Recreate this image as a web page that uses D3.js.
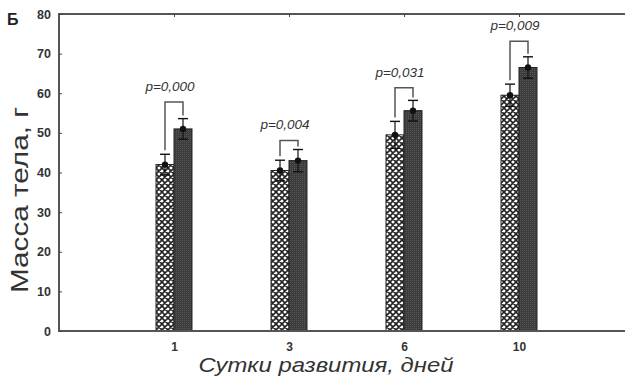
<!DOCTYPE html>
<html><head><meta charset="utf-8">
<script src="https://cdn.jsdelivr.net/npm/d3@7"></script>
<style>body{margin:0;background:#fff}svg{display:block}</style>
</head><body>
<script>
const categories = ["1","3","6","10"];
const controlMean = [42, 40.5, 49.5, 59.5];
const controlErr = [2.6, 2.6, 3.4, 2.8];
const treatedMean = [51, 43, 55.6, 66.5];
const treatedErr = [2.6, 2.8, 2.6, 2.7];
const bracketTop = [57.8, 48.1, 61.4, 73.1];
const pLabels = ["p=0,000","p=0,004","p=0,031","p=0,009"];
const yTicks = [0,10,20,30,40,50,60,70,80];

const W = 625, H = 378;
const svg = d3.select("body").append("svg").attr("width", W).attr("height", H);
const defs = svg.append("defs");
const hp = defs.append("pattern").attr("id","hatch").attr("patternUnits","userSpaceOnUse")
  .attr("width",6).attr("height",6);
hp.append("rect").attr("width",6).attr("height",6).attr("fill","#fff");
hp.append("path").attr("d","M0,0L6,6M6,0L0,6M-1,5L1,7M5,-1L7,1M-1,1L1,-1M5,7L7,5")
  .attr("stroke","#222").attr("stroke-width",1.6);
const dp = defs.append("pattern").attr("id","dark").attr("patternUnits","userSpaceOnUse")
  .attr("width",2).attr("height",2);
dp.append("rect").attr("width",2).attr("height",2).attr("fill","#3c3c3c");
dp.append("rect").attr("width",1).attr("height",1).attr("fill","#555");

const mLeft = 59, mRight = 625, mTop = 14, mBottom = 331;
const y = d3.scaleLinear().domain([0,80]).range([mBottom, mTop]);
const x = d3.scalePoint().domain(categories).range([174, 519]);
const sub = d3.scaleBand().domain(["c","t"]).range([-18, 18]);

const rows = categories.map((c,i)=>({c, i}));
const g = svg.append("g");
const FONT = "Liberation Sans, Arial, sans-serif";

const series = [
  {key:"c", mean:controlMean, err:controlErr, fill:"url(#hatch)"},
  {key:"t", mean:treatedMean, err:treatedErr, fill:"url(#dark)"}
];
series.forEach(s=>{
  g.selectAll(null).data(rows).enter().append("rect")
    .attr("x", d=>x(d.c)+sub(s.key))
    .attr("width", sub.bandwidth())
    .attr("y", d=>y(s.mean[d.i]))
    .attr("height", d=>y(0)-y(s.mean[d.i]))
    .attr("fill", s.fill).attr("stroke","#222").attr("stroke-width",1);
});
series.forEach(s=>{
  const cx = d=>x(d.c)+sub(s.key)+sub.bandwidth()/2;
  const eg = g.selectAll(null).data(rows).enter().append("g");
  eg.append("line").attr("x1",cx).attr("x2",cx)
    .attr("y1",d=>y(s.mean[d.i]-s.err[d.i])).attr("y2",d=>y(s.mean[d.i]+s.err[d.i]))
    .attr("stroke","#111").attr("stroke-width",1.2);
  [-1,1].forEach(sg=>{
    eg.append("line").attr("x1",d=>cx(d)-5).attr("x2",d=>cx(d)+5)
      .attr("y1",d=>y(s.mean[d.i]+sg*s.err[d.i])).attr("y2",d=>y(s.mean[d.i]+sg*s.err[d.i]))
      .attr("stroke","#111").attr("stroke-width",1.4);
  });
  eg.append("circle").attr("cx",cx).attr("cy",d=>y(s.mean[d.i])).attr("r",3.2)
    .attr("fill","#111");
});
const bg = g.selectAll(null).data(rows).enter().append("g");
bg.append("path").attr("fill","none").attr("stroke","#555").attr("stroke-width",1.5)
  .attr("d", d=>{
    const x1 = x(d.c)+sub("c")+sub.bandwidth()/2, x2 = x(d.c)+sub("t")+sub.bandwidth()/2;
    const y1 = y(controlMean[d.i]+controlErr[d.i])-4, y2 = y(treatedMean[d.i]+treatedErr[d.i])-3;
    const yt = y(bracketTop[d.i]);
    return `M${x1},${y1}V${yt}H${x2}V${y2}`;
  });
bg.append("text").attr("x", d=>x(d.c)-4).attr("y", d=>y(bracketTop[d.i])-11)
  .attr("text-anchor","middle").attr("font-family",FONT)
  .attr("font-style","italic").attr("font-size",13.5).attr("fill","#333")
  .text(d=>pLabels[d.i]);

const ax = svg.append("g").attr("stroke","#555").attr("stroke-width",2);
ax.append("line").attr("x1",mLeft).attr("x2",mLeft).attr("y1",mTop).attr("y2",mBottom);
ax.append("line").attr("x1",mLeft-1).attr("x2",mRight).attr("y1",mBottom).attr("y2",mBottom);
ax.append("line").attr("x1",mLeft-1).attr("x2",mRight).attr("y1",mTop).attr("y2",mTop);

const yAxis = svg.append("g").attr("transform",`translate(${mLeft},0)`)
  .call(d3.axisLeft(y).tickValues(yTicks).tickSize(-3).tickPadding(8).tickFormat(d3.format("d")));
yAxis.select(".domain").remove();
yAxis.selectAll("line").attr("stroke","#444");
yAxis.selectAll("text").attr("font-family",FONT)
  .attr("font-size",12.5).attr("font-weight","bold").attr("fill","#333");

const xAxis = svg.append("g").attr("transform",`translate(0,${mBottom})`)
  .call(d3.axisBottom(x).tickSize(0).tickPadding(11));
xAxis.select(".domain").remove();
xAxis.selectAll("text").attr("font-family",FONT)
  .attr("font-size",12).attr("font-weight","bold").attr("fill","#333");
const xTop = svg.append("g").attr("transform",`translate(0,${mTop})`)
  .call(d3.axisTop(x).tickSize(-3).tickFormat(""));
xTop.select(".domain").remove();
xTop.selectAll("line").attr("stroke","#444");

svg.append("text").attr("transform","translate(28,200) rotate(-90)")
  .attr("text-anchor","middle").attr("font-family",FONT)
  .attr("font-size",23).attr("fill","#333")
  .attr("textLength",186).attr("lengthAdjust","spacingAndGlyphs").text("Масса тела, г");
svg.append("text").attr("x",326).attr("y",372)
  .attr("text-anchor","middle").attr("font-family",FONT)
  .attr("font-style","italic").attr("font-size",21).attr("fill","#333")
  .attr("textLength",255).attr("lengthAdjust","spacingAndGlyphs").text("Сутки развития, дней");
svg.append("text").attr("x",7).attr("y",25).attr("font-family",FONT)
  .attr("font-weight","bold").attr("font-size",16).attr("fill","#222").text("Б");
</script>
</body></html>
